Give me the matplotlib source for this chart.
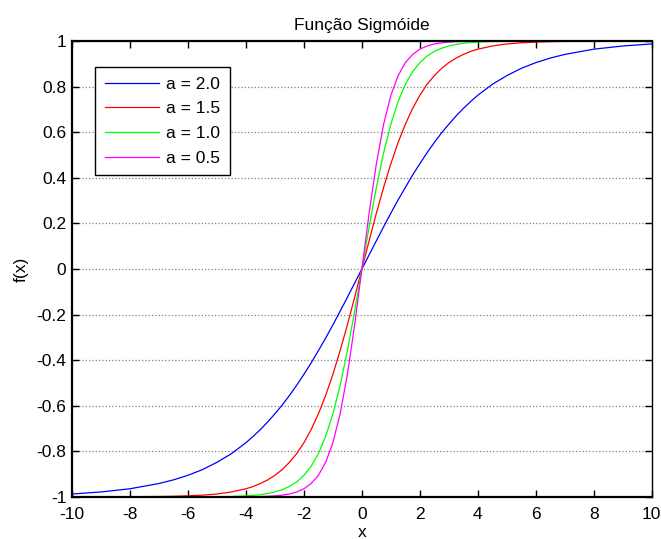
import matplotlib.pyplot as plt

plt.rcParams['font.family'] = ['Liberation Sans', 'DejaVu Sans']
plt.rcParams['axes.unicode_minus'] = False

# valores (x de -10 a 10)
x = [-10, -9, -8, -7, -6.5, -6, -5.5, -5, -4.5, -4, -3.75, -3.5, -3.25, -3, -2.75, -2.5, -2.25,
     -2, -1.75, -1.5, -1.25, -1, -0.75, -0.5, -0.25,
     0, 0.25, 0.5, 0.75, 1, 1.25, 1.5, 1.75, 2, 2.25, 2.5, 2.75, 3, 3.25, 3.5, 3.75, 4,
     4.5, 5, 5.5, 6, 6.5, 7, 8, 9, 10]

y_a20 = [-0.987, -0.978, -0.964, -0.941, -0.925, -0.905, -0.880, -0.848, -0.810, -0.762, -0.734,
         -0.704, -0.671, -0.635, -0.597, -0.555, -0.510, -0.462, -0.412, -0.358, -0.303, -0.245,
         -0.185, -0.124, -0.062,
         0, 0.062, 0.124, 0.185, 0.245, 0.303, 0.358, 0.412, 0.462, 0.510, 0.555, 0.597, 0.635,
         0.671, 0.704, 0.734, 0.762, 0.810, 0.848, 0.880, 0.905, 0.925, 0.941, 0.964, 0.978, 0.987]
y_a15 = [-1.0, -1.0, -0.999, -0.998, -0.997, -0.995, -0.992, -0.987, -0.978, -0.964, -0.954,
         -0.941, -0.925, -0.905, -0.880, -0.848, -0.810, -0.762, -0.704, -0.635, -0.555, -0.462,
         -0.358, -0.245, -0.124,
         0, 0.124, 0.245, 0.358, 0.462, 0.555, 0.635, 0.704, 0.762, 0.810, 0.848, 0.880, 0.905,
         0.925, 0.941, 0.954, 0.964, 0.978, 0.987, 0.992, 0.995, 0.997, 0.998, 0.999, 1.0, 1.0]
y_a10 = [-1.0, -1.0, -1.0, -1.0, -1.0, -1.0, -1.0, -0.999, -0.998, -0.995, -0.993,
         -0.990, -0.985, -0.978, -0.968, -0.954, -0.934, -0.905, -0.865, -0.810, -0.734, -0.635,
         -0.510, -0.358, -0.185,
         0, 0.185, 0.358, 0.510, 0.635, 0.734, 0.810, 0.865, 0.905, 0.934, 0.954, 0.968, 0.978,
         0.985, 0.990, 0.993, 0.995, 0.998, 0.999, 1.0, 1.0, 1.0, 1.0, 1.0, 1.0, 1.0]
y_a05 = [-1.0, -1.0, -1.0, -1.0, -1.0, -1.0, -1.0, -1.0, -1.0, -0.999, -0.999,
         -0.998, -0.997, -0.995, -0.992, -0.987, -0.978, -0.964, -0.941, -0.905, -0.848, -0.762,
         -0.635, -0.462, -0.245,
         0, 0.245, 0.462, 0.635, 0.762, 0.848, 0.905, 0.941, 0.964, 0.978, 0.987, 0.992, 0.995,
         0.997, 0.998, 0.999, 0.999, 1.0, 1.0, 1.0, 1.0, 1.0, 1.0, 1.0, 1.0, 1.0]

rotulos = ['a = 2.0', 'a = 1.5', 'a = 1.0', 'a = 0.5']
cores = ['#0000ff', '#ff0000', '#00ff00', '#ff00ff']

fig = plt.figure(figsize=(6.61, 5.39), dpi=100)
ax = fig.add_axes([0.109, 0.078, 0.877, 0.846])

for serie, rotulo, cor in zip([y_a20, y_a15, y_a10, y_a05], rotulos, cores):
    ax.plot(x, serie, color=cor, lw=0.9, label=rotulo)

ax.set_xlim(-10, 10)
ax.set_ylim(-1, 1)
ax.set_xticks(range(-10, 11, 2))
yt = [-1, -0.8, -0.6, -0.4, -0.2, 0, 0.2, 0.4, 0.6, 0.8, 1]
ax.set_yticks(yt)
ax.set_yticklabels(['-1', '-0.8', '-0.6', '-0.4', '-0.2', '0', '0.2', '0.4', '0.6', '0.8', '1'])
ax.tick_params(direction='in', top=True, right=True, length=5, labelsize=12.5, width=1)
ax.tick_params(axis='x', pad=7)
ax.tick_params(axis='y', pad=4)
ax.yaxis.grid(True, linestyle=':', color='#808080', lw=0.9)

for lado in ['left', 'bottom', 'top']:
    ax.spines[lado].set_linewidth(1.6)
ax.spines['right'].set_linewidth(1.0)

ax.set_title('Função Sigmóide', fontsize=12.5, pad=8)
ax.set_xlabel('x', fontsize=12.5, labelpad=2.5)
ax.set_ylabel('f(x)', fontsize=12.5, labelpad=6)

leg = ax.legend(loc='upper left', bbox_to_anchor=(0.04, 0.943), borderaxespad=0,
                fontsize=12.5, handlelength=3.1, handletextpad=0.45, borderpad=0.55,
                fancybox=False, framealpha=1, edgecolor='black', labelspacing=0.55)
leg.get_frame().set_linewidth(1.0)

plt.savefig('out.png', dpi=100)
